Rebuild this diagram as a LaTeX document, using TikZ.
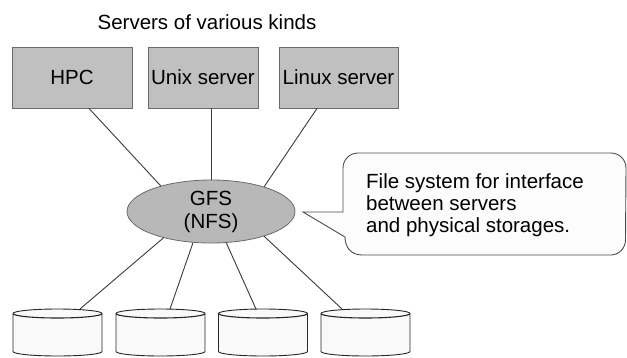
\documentclass[tikz,border=0pt]{standalone}
\usepackage{fontspec}
\setmainfont{Liberation Sans}
\usetikzlibrary{shapes.geometric,calc}
\definecolor{boxgray}{HTML}{C0C0C0}
\definecolor{hubgray}{HTML}{B8B8B8}
\definecolor{edgegray}{HTML}{6A6A6A}
\definecolor{linegray}{HTML}{3A3A3A}
\definecolor{diskfill}{HTML}{F9F9F9}
\definecolor{notefill}{HTML}{FCFCFC}
\begin{document}
\begin{tikzpicture}[x=1pt,y=1pt,
  txt/.style={font=\fontsize{20.5}{22}\selectfont},
  server/.style={txt, draw=edgegray, fill=boxgray, line width=0.8pt,
    minimum height=61pt, inner sep=0pt},
  hub/.style={txt, ellipse, draw=edgegray, fill=hubgray, line width=0.8pt,
    minimum width=168pt, minimum height=63pt, inner sep=0pt, align=center,
    font=\fontsize{20.5}{23}\selectfont},
  disk/.style={minimum width=89pt, minimum height=47pt, inner sep=0pt, outer sep=0pt},
  diskbody/.style={fill=diskfill, draw=black!85, line width=0.9pt},
  link/.style={draw=linegray, line width=0.9pt},
  note/.style={fill=notefill, draw=black!70, line width=0.9pt},
]
\useasboundingbox (0,0) rectangle (627,-357);

% heading
\node[txt] (title) at (207,-22) {Servers of various kinds};

% servers
\node[server, minimum width=120pt] (hpc)   at (72,-77.5)    {HPC};
\node[server, minimum width=110pt] (unix)  at (203,-77.5)   {Unix server};
\node[server, minimum width=119pt] (linux) at (338.5,-77.5) {Linux server};

% shared file system
\node[hub] (gfs) at (211,-211.5) {GFS\\(NFS)};

% storage units (outlines drawn below)
\node[disk] (d1) at (57.5,-332.5)  {};
\node[disk] (d2) at (160.5,-332.5) {};
\node[disk] (d3) at (263,-332.5)   {};
\node[disk] (d4) at (365.5,-332.5) {};

% connectors
\draw[link] ([xshift=17pt]hpc.south)    -- (gfs.153);
\draw[link] ([xshift=8pt]unix.south)    -- (gfs.north);
\draw[link] ([xshift=-21.5pt]linux.south) -- (gfs.25);
\draw[link] (gfs.209) -- ([xshift=22.5pt]d1.north);
\draw[link] (gfs.240) -- ([xshift=9.5pt]d2.north);
\draw[link] (gfs.296) -- ([xshift=-7pt]d3.north);
\draw[link] (gfs.335) -- ([xshift=-23.5pt]d4.north);

% cylinder outlines
\foreach \d in {d1,d2,d3,d4}{
  \path[diskbody] ($(\d.north west)+(0,-4.5)$) -- ($(\d.south west)+(0,4.5)$)
    arc[start angle=180, end angle=360, x radius=44.5pt, y radius=4.5pt]
    -- ($(\d.north east)+(0,-4.5)$)
    arc[start angle=0, end angle=180, x radius=44.5pt, y radius=4.5pt] -- cycle;
  \draw[diskbody, fill=none, line width=1.1pt] ($(\d.north west)+(0,-4.5)$)
    arc[start angle=180, end angle=360, x radius=44.5pt, y radius=4.5pt];
}

% speech balloon pointing at the file system
\coordinate (tip) at (303,-212);
\path[note] (tip) -- (343,-212) -- (343,-168)
  arc[start angle=180, end angle=90, radius=15pt] -- (611,-153)
  arc[start angle=90, end angle=0, radius=15pt] -- (625.5,-240)
  arc[start angle=0, end angle=-90, radius=15pt] -- (362,-255)
  .. controls (350,-255) and (345,-246) .. (345,-237) -- cycle;
\node[txt, anchor=west, align=left, inner sep=0pt] (note) at (366,-205)
  {File system for interface\\between servers\\and physical storages.};
\end{tikzpicture}
\end{document}
